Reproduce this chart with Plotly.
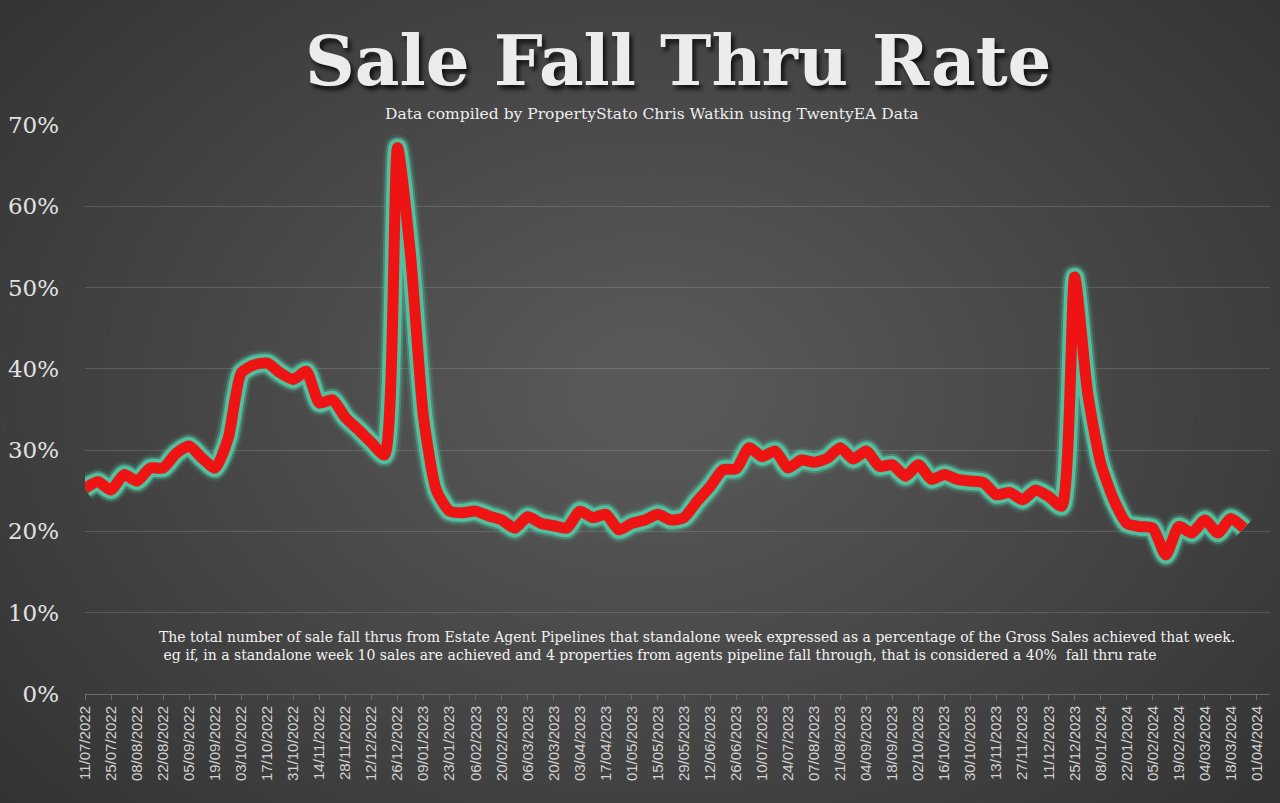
import pandas as pd
import plotly.graph_objects as go

# weekly categories, 11/07/2022 .. 01/04/2024 (last week has no value yet)
weeks = [d.strftime("%d/%m/%Y") for d in pd.date_range("2022-07-11", "2024-04-01", freq="7D")]

fall_thru_pct = [
    25.3, 26.1, 25.1, 27.0, 26.2, 27.8, 27.8, 29.6, 30.5, 29.0,
    27.8, 31.5, 39.5, 40.5, 40.7, 39.5, 38.7, 39.7, 35.8, 36.2,
    34.0, 32.5, 30.9, 29.4, 67.2, 54.0, 34.0, 25.0, 22.5, 22.3,
    22.5, 21.9, 21.4, 20.4, 21.8, 21.0, 20.7, 20.4, 22.5, 21.7,
    22.1, 20.2, 21.0, 21.4, 22.1, 21.4, 21.7, 23.7, 25.5, 27.6,
    27.7, 30.3, 29.2, 29.9, 27.8, 28.8, 28.5, 29.0, 30.3, 28.9,
    29.9, 28.0, 28.2, 26.8, 28.2, 26.4, 27.0, 26.4, 26.2, 26.0,
    24.5, 24.8, 23.9, 25.1, 24.3, 23.1, 51.3, 37.0, 28.4, 23.9,
    21.0, 20.6, 20.4, 17.1, 20.6, 19.8, 21.4, 19.8, 21.6, 20.4,
]

y_ticks = [0, 10, 20, 30, 40, 50, 60, 70]
y_labels = [f"{v}%" for v in y_ticks]

title = "Sale Fall Thru Rate"
subtitle = "Data compiled by PropertyStato Chris Watkin using TwentyEA Data"
note1 = ("The total number of sale fall thrus from Estate Agent Pipelines that standalone week "
         "expressed as a percentage of the Gross Sales achieved that week.")
note2 = (" eg if, in a standalone week 10 sales are achieved and 4 properties from agents pipeline "
         "fall through, that is considered a 40%  fall thru rate")

W, H = 1280, 803
L, R, T, B = 85, 10, 125, 109
pw, ph = W - L - R, H - T - B


def px(x):
    return (x - L) / pw


def py(y):
    return (H - B - y) / ph


x_vals = weeks[:len(fall_thru_pct)]

fig = go.Figure()
# glow layers + red line
for width, color in [(27, "rgba(80,195,160,0.12)"), (22, "rgba(80,195,160,0.4)"),
                     (18, "rgb(82,192,158)"), (11, "#ee1414")]:
    fig.add_trace(go.Scatter(
        x=x_vals, y=fall_thru_pct, mode="lines",
        line=dict(color=color, width=width, shape="spline", smoothing=0.6),
        hoverinfo="skip" if width != 11 else None, showlegend=False,
    ))

# radial-ish background glow
shapes = []
n = 45
for k in range(n):
    f = 1 - k / n
    rx, ry = 950 * f + 60, 700 * f + 45
    cx, cy = 650, 390
    shapes.append(dict(
        type="circle", xref="paper", yref="paper", layer="below",
        x0=px(cx - rx), x1=px(cx + rx), y0=py(cy + ry), y1=py(cy - ry),
        fillcolor="rgba(255,255,255,0.0065)", line=dict(width=0),
    ))

serif = "DejaVu Serif"
annotations = [
    dict(text=title, x=px(678), y=py(61), xref="paper", yref="paper", showarrow=False,
         xanchor="center", yanchor="middle",
         font=dict(family=serif, size=69, color="#ececec", weight="bold",
                   shadow="3px 4px 4px rgba(0,0,0,0.75)")),
    dict(text=subtitle, x=px(651), y=py(114), xref="paper", yref="paper", showarrow=False,
         xanchor="center", yanchor="middle",
         font=dict(family=serif, size=15.5, color="#eeeeee")),
    dict(text=note1, x=px(157), y=py(637), xref="paper", yref="paper", showarrow=False,
         xanchor="left", yanchor="middle",
         font=dict(family=serif, size=14, color="#f2f2f2")),
    dict(text=note2, x=px(157), y=py(655), xref="paper", yref="paper", showarrow=False,
         xanchor="left", yanchor="middle",
         font=dict(family=serif, size=14, color="#f2f2f2")),
]

fig.update_layout(
    width=W, height=H,
    margin=dict(l=L, r=R, t=T, b=B, autoexpand=False),
    paper_bgcolor="#2b2b2b", plot_bgcolor="rgba(0,0,0,0)",
    shapes=shapes, annotations=annotations,
    xaxis=dict(
        type="category", categoryorder="array", categoryarray=weeks,
        range=[0, len(weeks)], tickvals=weeks[::2], ticktext=weeks[::2],
        tickangle=-90, showgrid=False, showline=True, linecolor="#6a6a6a", linewidth=1,
        ticks="outside", ticklen=5, tickcolor="#6a6a6a",
        tickfont=dict(family="Liberation Sans", size=15, color="#d2d2d2"),
        fixedrange=True,
    ),
    yaxis=dict(
        range=[0, 70], tickvals=y_ticks, ticktext=y_labels,
        showgrid=True, gridcolor="rgba(255,255,255,0.14)", gridwidth=1,
        zeroline=False, showline=False, ticklabelstandoff=25,
        tickfont=dict(family=serif, size=23, color="#e2e2e2"),
        fixedrange=True,
    ),
)

fig.write_html("out.html", config={"displayModeBar": False},
               post_script="document.body.style.margin='0';document.body.style.background='#2b2b2b';")
